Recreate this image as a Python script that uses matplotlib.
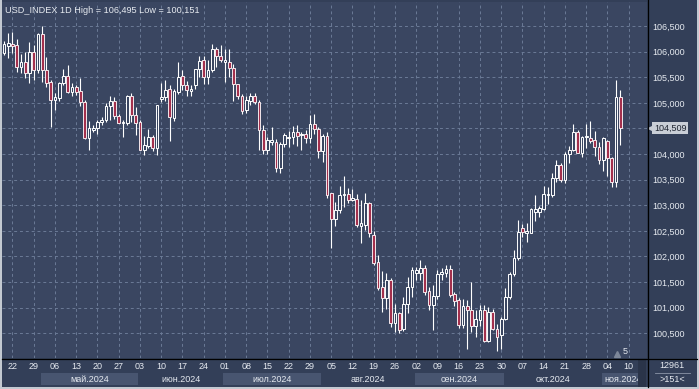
import numpy as np
import pandas as pd
import matplotlib
matplotlib.use("Agg")
import matplotlib.pyplot as plt
from matplotlib.lines import Line2D
from matplotlib.patches import Rectangle

plt.rcParams['font.family'] = ['Liberation Sans', 'DejaVu Sans']

# daily bars, 18.04.2024 - 07.11.2024
dates = pd.bdate_range('2024-04-18', '2024-11-07')

opens = [105.97, 106.12, 106.14, 106.13, 105.70, 105.80, 105.58, 106.00, 105.64, 106.34,
         105.65, 105.41, 105.05, 105.09, 105.38, 105.52, 105.22, 105.30, 105.23, 105.02,
         104.31, 104.47, 104.50, 104.62, 104.66, 104.94, 105.04, 104.74, 104.60, 104.61,
         105.13, 104.76, 104.63, 104.08, 104.16, 104.33, 104.11, 105.07, 105.11, 105.28,
         104.70, 105.22, 105.52, 105.35, 105.24, 105.35, 105.67, 105.84, 105.50, 105.64,
         106.06, 105.91, 105.80, 105.80, 105.69, 105.37, 105.13, 104.87, 105.04, 105.13,
         105.02, 104.47, 104.08, 104.24, 104.24, 103.72, 104.20, 104.31, 104.33, 104.44,
         104.37, 104.40, 104.31, 104.59, 104.48, 104.05, 104.35, 103.23, 102.74, 102.91,
         103.20, 103.22, 103.11, 103.13, 102.59, 102.61, 103.05, 102.42, 101.90, 101.40,
         101.18, 101.54, 100.69, 100.89, 100.58, 101.08, 101.40, 101.67, 101.67, 101.77,
         101.33, 101.05, 101.22, 101.65, 101.67, 101.75, 101.27, 101.14, 100.66, 101.03,
         100.95, 100.64, 100.76, 100.95, 100.35, 100.92, 100.58, 100.46, 100.77, 101.21,
         101.65, 101.96, 102.55, 102.46, 102.46, 102.87, 102.87, 102.92, 103.20, 103.20,
         103.53, 103.78, 103.49, 104.00, 104.08, 104.44, 104.03, 104.33, 104.32, 104.27,
         104.13, 103.88, 104.26, 103.92, 103.46, 105.11]
highs = [106.20, 106.37, 106.39, 106.25, 105.95, 106.00, 106.19, 106.13, 106.36, 106.495,
         105.90, 105.45, 105.19, 105.41, 105.67, 105.74, 105.39, 105.35, 105.48, 105.05,
         104.65, 104.56, 104.66, 104.72, 105.00, 105.14, 105.12, 104.79, 104.66, 105.15,
         105.20, 104.91, 104.66, 104.35, 104.48, 104.38, 104.96, 105.39, 105.45, 105.35,
         105.28, 105.80, 105.65, 105.42, 105.35, 105.67, 105.91, 105.91, 105.84, 106.14,
         106.10, 106.13, 106.06, 106.05, 105.76, 105.37, 105.18, 105.13, 105.19, 105.20,
         105.05, 104.57, 104.33, 104.52, 104.29, 104.24, 104.42, 104.45, 104.55, 104.57,
         104.44, 104.46, 104.76, 104.79, 104.53, 104.40, 104.44, 103.23, 103.07, 103.38,
         103.57, 103.33, 103.31, 103.21, 103.10, 103.23, 103.07, 102.49, 102.03, 101.71,
         101.67, 101.57, 101.08, 100.92, 101.20, 101.60, 101.80, 101.80, 101.93, 101.84,
         101.40, 101.45, 101.73, 101.77, 101.84, 101.84, 101.30, 101.19, 101.16, 101.14,
         101.51, 100.95, 101.05, 101.05, 101.01, 100.97, 100.68, 100.82, 101.39, 101.70,
         102.12, 102.71, 102.63, 102.65, 102.94, 103.20, 102.98, 103.37, 103.36, 103.63,
         103.88, 103.83, 104.04, 104.15, 104.59, 104.47, 104.36, 104.59, 104.64, 104.45,
         104.24, 104.33, 104.27, 103.95, 105.45, 105.26]
lows = [105.93, 105.87, 105.97, 105.61, 105.58, 105.48, 105.39, 105.45, 105.58, 105.41,
        105.31, 104.52, 104.86, 105.03, 105.35, 105.20, 105.13, 105.15, 104.94, 104.29,
        104.08, 104.43, 104.40, 104.56, 104.62, 104.66, 104.68, 104.60, 104.34, 104.56,
        104.63, 104.37, 104.07, 103.98, 104.11, 104.06, 103.98, 105.02, 105.04, 104.26,
        104.64, 105.17, 105.26, 105.13, 105.14, 105.28, 105.50, 105.36, 105.36, 105.60,
        105.70, 105.80, 105.41, 105.51, 105.04, 105.07, 104.79, 104.80, 104.95, 104.98,
        104.08, 104.01, 104.01, 104.18, 103.65, 103.63, 104.13, 104.13, 104.20, 104.15,
        104.08, 104.22, 104.22, 104.40, 103.92, 103.85, 103.14, 102.16, 102.59, 102.84,
        102.97, 103.04, 103.09, 102.58, 102.27, 102.51, 102.38, 101.84, 101.35, 100.92,
        100.98, 100.63, 100.53, 100.51, 100.55, 100.89, 101.21, 101.54, 101.54, 101.24,
        100.95, 100.56, 101.17, 101.54, 101.60, 101.21, 101.03, 100.60, 100.60, 100.20,
        100.53, 100.43, 100.64, 100.33, 100.33, 100.56, 100.151, 100.19, 100.75, 101.16,
        101.61, 101.94, 102.38, 102.29, 102.45, 102.70, 102.77, 102.90, 103.02, 103.17,
        103.46, 103.46, 103.43, 103.83, 104.05, 104.02, 103.95, 104.11, 104.21, 103.96,
        103.81, 103.67, 103.57, 103.35, 103.35, 104.18]
closes = [106.14, 106.16, 106.11, 105.70, 105.80, 105.58, 106.00, 105.64, 106.34, 105.64,
          105.39, 105.05, 105.11, 105.39, 105.52, 105.22, 105.30, 105.22, 105.02, 104.31,
          104.50, 104.50, 104.62, 104.66, 104.94, 105.04, 104.74, 104.60, 104.61, 105.13,
          104.76, 104.60, 104.08, 104.18, 104.33, 104.11, 104.96, 105.12, 105.26, 104.72,
          105.24, 105.51, 105.35, 105.26, 105.26, 105.67, 105.82, 105.50, 105.64, 106.06,
          105.91, 105.84, 105.84, 105.69, 105.37, 105.13, 104.85, 105.05, 105.13, 105.02,
          104.47, 104.08, 104.27, 104.27, 103.72, 104.20, 104.37, 104.33, 104.44, 104.35,
          104.40, 104.31, 104.59, 104.48, 104.05, 104.35, 103.20, 102.74, 102.91, 103.20,
          103.22, 103.11, 103.15, 102.61, 102.65, 103.05, 102.45, 101.87, 101.38, 101.18,
          101.54, 100.69, 100.89, 100.56, 101.08, 101.40, 101.73, 101.73, 101.77, 101.30,
          101.05, 101.22, 101.65, 101.70, 101.75, 101.24, 101.12, 100.66, 101.03, 100.95,
          100.64, 100.77, 100.95, 100.35, 100.92, 100.58, 100.42, 100.77, 101.21, 101.65,
          101.96, 102.48, 102.48, 102.50, 102.92, 102.92, 102.94, 103.21, 103.21, 103.53,
          103.78, 103.49, 104.00, 104.08, 104.44, 104.03, 104.33, 104.35, 104.26, 104.13,
          103.88, 104.31, 103.92, 103.46, 105.12, 104.509]

# weekly labels (Mondays) and months
week_pos = [2, 7, 12, 17, 22, 27, 32, 37, 42, 47, 52, 57, 62, 67, 72, 77, 82, 87, 92, 97,
            102, 107, 112, 117, 122, 127, 132, 137, 142, 147]
week_labels = ['22', '29', '06', '13', '20', '27', '03', '10', '17', '24', '01', '08', '15',
               '22', '29', '05', '12', '19', '26', '02', '09', '16', '23', '30', '07', '14',
               '21', '28', '04', '10']
month_start = [9, 32, 52, 75, 97, 118, 141]
month_labels = ['май.2024', 'июн.2024', 'июл.2024', 'авг.2024', 'сен.2024', 'окт.2024', 'ноя.2024']

price_ticks = [100.5, 101.0, 101.5, 102.0, 102.5, 103.0, 103.5, 104.0, 104.5, 105.0, 105.5, 106.0, 106.5]

BG = '#3a4661'
PANEL = '#333f58'
GRID = '#6b7a96'
TXT = '#e6eaf0'
RED = '#a3304d'

W, H = 699, 389
fig = plt.figure(figsize=(W / 100, H / 100), dpi=100, facecolor=PANEL)

def fx(px):
    return px / W

def fy(py):
    return 1 - py / H

xmin, xmax = -0.47, 151.3
ax = fig.add_axes([fx(2), fy(358), fx(645), 356 / H])
ax.set_facecolor(BG)
ax.set_xlim(xmin, xmax)
ax.set_ylim(100.016, 106.97)
for s in ax.spines.values():
    s.set_visible(False)

# grid
for p in price_ticks:
    ax.axhline(p, color=GRID, lw=0.7, ls=(0, (3, 3)), zorder=0)
for p in week_pos:
    ax.axvline(p, color=GRID, lw=0.7, ls=(0, (3, 3)), zorder=0)

# candles
x = np.arange(len(dates))
o = np.array(opens); h = np.array(highs); l = np.array(lows); c = np.array(closes)
up = c >= o
ax.vlines(x, l, h, color='white', lw=0.8, zorder=2)
body_lo = np.minimum(o, c)
body_h = np.maximum(np.abs(c - o), 0.025)
ax.bar(x[up], body_h[up], bottom=body_lo[up], width=0.62, facecolor=BG,
       edgecolor='white', linewidth=0.7, zorder=3)
ax.bar(x[~up], body_h[~up], bottom=body_lo[~up], width=0.62, facecolor=RED,
       edgecolor='#f4e8ec', linewidth=0.7, zorder=3)

# price axis on the right
ax.set_yticks(price_ticks)
ax.set_yticklabels([f"{p:.3f}".replace('.', ',') for p in price_ticks])
ax.yaxis.set_ticks_position('right')
ax.tick_params(axis='y', length=0, pad=4, labelsize=6.5, labelcolor=TXT)
ax.set_xticks([])

# title
ax.text(3 / 645, 0.99, 'USD_INDEX 1D High = 106,495 Low = 100,151', transform=ax.transAxes,
        ha='left', va='top', fontsize=6.6, color=TXT)

# last price tag
last = closes[-1]
ax.text(1.011, last, f"{last:.3f}".replace('.', ','), transform=ax.get_yaxis_transform(),
        ha='left', va='center', fontsize=6.5, color='#1e2430', clip_on=False, zorder=6,
        bbox=dict(boxstyle='square,pad=0.18', fc='#c9ced6', ec='none'))
ax.plot([1.006], [last], marker='<', ms=4.5, color='#c9ced6', transform=ax.get_yaxis_transform(),
        clip_on=False, zorder=6)

# shift marker
fig.text(fx(625), fy(352), '5', ha='center', va='center', fontsize=6.5, color=TXT, zorder=5)
ax.plot([xmin + (617 - 2) / 4.25], [100.09], marker='^', ms=4, color='#7d8799', zorder=4)

# time axis panel
axb = fig.add_axes([fx(2), fy(387), fx(645), 28 / H], sharex=ax)
axb.set_facecolor(PANEL)
axb.set_ylim(0, 1)
axb.axis('off')
bounds = month_start + [xmax]
for i, lab in enumerate(month_labels):
    a, b = bounds[i] - 0.4, bounds[i + 1] - 0.4
    if i % 2 == 0:
        axb.axvspan(a, b, ymin=0.07, ymax=0.5, color='#485570', lw=0)
    axb.text((a + b) / 2, 0.285, lab, ha='center', va='center', fontsize=6.5, color=TXT, clip_on=True)
for p, lab in zip(week_pos, week_labels):
    axb.text(p, 0.73, lab, ha='center', va='center', fontsize=6.5, color=TXT, clip_on=True)
axb.add_patch(Rectangle((xmin + (638 - 2) / 4.25, 0), 8 / 4.25, 1, color='#2a3449', lw=0, zorder=3))

# bottom-right counters
fig.text(fx(672), fy(366), '12961', ha='center', va='center', fontsize=6.5, color=TXT)
fig.text(fx(672), fy(380), '>151<', ha='center', va='center', fontsize=6.5, color=TXT)
fig.add_artist(Line2D([fx(655), fx(690)], [fy(372.5), fy(372.5)], color='#8b95a8', lw=0.6))

# frame lines
fig.add_artist(Line2D([fx(647.5), fx(647.5)], [fy(0), fy(387)], color='black', lw=0.9))
fig.add_artist(Line2D([fx(2), fx(697)], [fy(358.5), fy(358.5)], color='black', lw=0.9))
for rect in [(0, 0, 2, H), (697, 0, 2, H), (0, 387, W, 2)]:
    px, py, pw, ph = rect
    fig.add_artist(Rectangle((fx(px), fy(py + ph)), fx(pw), ph / H, color='#c3c9d1', lw=0))

fig.savefig('out.png', dpi=100, facecolor=fig.get_facecolor())
